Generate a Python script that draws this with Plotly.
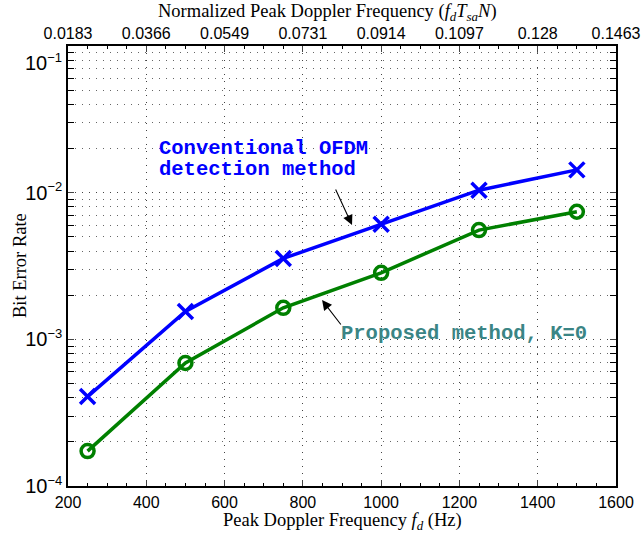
import plotly.graph_objects as go

freq = [250, 500, 750, 1000, 1250, 1500]
ber_conventional = [4.07e-4, 1.55e-3, 3.56e-3, 6.1e-3, 1.04e-2, 1.43e-2]
ber_proposed = [1.73e-4, 6.9e-4, 1.64e-3, 2.84e-3, 5.56e-3, 7.41e-3]

top_tickvals = [200, 400, 600, 800, 1000, 1200, 1400, 1600]
top_ticktext = ["0.0183", "0.0366", "0.0549", "0.0731", "0.0914", "0.1097", "0.128", "0.1463"]
y_tickvals = [1e-4, 1e-3, 1e-2, 1e-1]
sup = "<sup><span style='font-size:13px'>%s</span></sup>"
y_ticktext = ["10" + sup % "−4", "10" + sup % "−3", "10" + sup % "−2", ""]

tickfont = dict(family="Liberation Sans, Arial", size=16, color="black")
ytickfont = dict(family="Liberation Sans, Arial", size=20, color="black")
serif = dict(family="Liberation Serif, Times New Roman, serif", size=18.5, color="black")
mono = "Liberation Mono, Courier New, monospace"

fig = go.Figure()
fig.add_trace(go.Scatter(x=freq, y=ber_conventional, mode="lines+markers",
                         line=dict(color="#0000ff", width=3.5),
                         marker=dict(symbol="x-thin-open", size=15, line=dict(color="#0000ff", width=3.5)),
                         showlegend=False))
fig.add_trace(go.Scatter(x=freq, y=ber_proposed, mode="lines+markers",
                         line=dict(color="#008000", width=3.5),
                         marker=dict(symbol="circle-open", size=13, line=dict(color="#008000", width=3.5)),
                         showlegend=False))
# invisible trace on top axis
fig.add_trace(go.Scatter(x=[200, 1600], y=[1e-4, 1e-4], xaxis="x2", mode="markers",
                         marker=dict(opacity=0), hoverinfo="skip", showlegend=False))

grid = dict(showgrid=True, gridcolor="#444444", griddash="1px,6px", gridwidth=1)

fig.update_layout(
    width=643, height=533,
    margin=dict(l=68, r=27, t=46, b=47),
    plot_bgcolor="white", paper_bgcolor="white",
    xaxis=dict(range=[200, 1600], tickvals=top_tickvals, ticks="inside", ticklen=6,
               showline=True, linecolor="black", linewidth=1.5, mirror=True,
               zeroline=False, tickfont=tickfont, automargin=False, ticklabelstandoff=1,
               minor=dict(ticks="inside", ticklen=3, dtick=50, tickcolor="black", showgrid=False),
               **grid),
    xaxis2=dict(range=[200, 1600], overlaying="x", side="top", tickvals=top_tickvals,
                ticktext=top_ticktext, ticks="inside", ticklen=6, showgrid=False,
                showline=False, zeroline=False, tickfont=tickfont, automargin=False,
                ticklabelstandoff=3,
                minor=dict(ticks="inside", ticklen=3, dtick=50, tickcolor="black")),
    yaxis=dict(type="log", range=[-4, -1], tickvals=y_tickvals, ticktext=y_ticktext,
               ticks="inside", ticklen=6, showline=True, linecolor="black", linewidth=1.5,
               mirror="allticks", zeroline=False, tickfont=ytickfont, automargin=False,
               minor=dict(ticks="inside", ticklen=3, dtick="D1", showgrid=True,
                          gridcolor="#666666", griddash="1px,6px", gridwidth=1, tickcolor="black"),
               **grid),
)

# axis titles
fig.add_annotation(x=0.5, y=0, xref="paper", yref="paper", xanchor="center", yanchor="middle",
                   yshift=-35, text="Peak Doppler Frequency <i>f<sub>d</sub></i> (Hz)",
                   showarrow=False, font=serif)
fig.add_annotation(x=0.5, y=1, xref="paper", yref="paper", xanchor="center", yanchor="middle",
                   yshift=34, xshift=-15,
                   text="Normalized Peak Doppler Frequency (<i>f<sub>d</sub>T<sub>sa</sub>N</i>)",
                   showarrow=False, font=serif)
fig.add_annotation(x=0, y=0.5, xref="paper", yref="paper", xanchor="center", yanchor="middle",
                   xshift=-48, text="Bit Error Rate", textangle=-90, showarrow=False, font=serif)

# top y tick label (MATLAB shifts it below the axis top)
fig.add_annotation(x=0, y=1, xref="paper", yref="paper", xanchor="right", yanchor="top",
                   xshift=-4, yshift=-2, text="10" + sup % "−1", showarrow=False, font=ytickfont)

fig.add_annotation(x=435, y=-1.6955, xref="x", yref="y", xanchor="left", yanchor="middle", xshift=-3,
                   text="<b>Conventional OFDM</b>", showarrow=False,
                   font=dict(family=mono, size=20.5, color="#0000ff"))
fig.add_annotation(x=435, y=-1.839, xref="x", yref="y", xanchor="left", yanchor="middle", xshift=-3,
                   text="<b>detection method</b>", showarrow=False,
                   font=dict(family=mono, size=20.5, color="#0000ff"))
fig.add_annotation(x=925.6, y=-2.2205, xref="x", yref="y", ax=882, ay=-1.968, axref="x", ayref="y",
                   text="", showarrow=True, arrowhead=2, arrowsize=1.8, arrowwidth=1.1, arrowcolor="black")
fig.add_annotation(x=900, y=-2.957, xref="x", yref="y", xanchor="left", yanchor="middle", xshift=-3,
                   text="<b>Proposed method, K=0</b>", showarrow=False,
                   font=dict(family=mono, size=20.5, color="#3b8585"))
fig.add_annotation(x=849, y=-2.732, xref="x", yref="y", ax=900, ay=-2.909, axref="x", ayref="y",
                   text="", showarrow=True, arrowhead=2, arrowsize=1.8, arrowwidth=1.1, arrowcolor="black")

fig.write_html("out.html")
